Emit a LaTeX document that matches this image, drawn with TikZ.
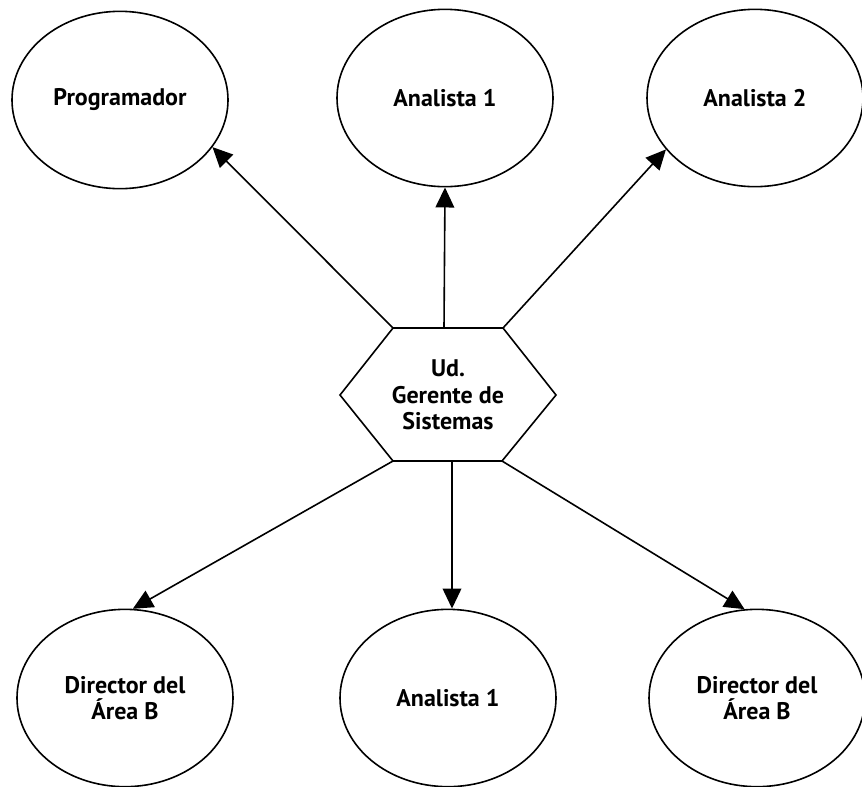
\documentclass[tikz,border=0pt]{standalone}
\usepackage{fontspec}
\setmainfont{PT Sans}
\usetikzlibrary{shapes.geometric,arrows.meta}

\begin{document}
\begin{tikzpicture}[x=0.75pt,y=-0.75pt,
  puesto/.style={draw,ellipse,line width=1.2pt,minimum width=162pt,minimum height=133pt,
    inner sep=0pt,align=center,font=\bfseries\fontsize{18}{19.5}\selectfont},
  flecha/.style={line width=1.2pt,-{Triangle[length=15pt,width=14pt]}}]
  \useasboundingbox (0,0) rectangle (862,786);
  % puestos de arriba
  \node[puesto] (prog)  at (120,100) {Programador};
  \node[puesto] (anaA)  at (445,98)  {Analista 1};
  \node[puesto] (anaB)  at (755,98)  {Analista 2};
  % puestos de abajo
  \node[puesto] (dirA)  at (125,698) {Director del\\Área B};
  \node[puesto] (anaC)  at (448,698) {Analista 1};
  \node[puesto] (dirB)  at (757,698) {Director del\\Área B};
  % unidad central
  \node[align=center,font=\bfseries\fontsize{18}{20}\selectfont] (hub) at (448,395)
        {Ud.\\Gerente de\\Sistemas};
  \coordinate (hw)  at (340,395);
  \coordinate (hnw) at (393,328);
  \coordinate (hn)  at (444,328);
  \coordinate (hne) at (503,328);
  \coordinate (he)  at (556,395);
  \coordinate (hse) at (502,461);
  \coordinate (hs)  at (452,461);
  \coordinate (hsw) at (393,461);
  \draw[line width=1.2pt] (hw) -- (hnw) -- (hne) -- (he) -- (hse) -- (hsw) -- cycle;
  \draw[flecha] (hnw) -- (prog.-27);
  \draw[flecha] (hn)  -- (anaA.south);
  \draw[flecha] (hne) -- (anaB.-150);
  \draw[flecha] (hsw) -- (dirA.85);
  \draw[flecha] (hs)  -- (hs |- anaC.north);
  \draw[flecha] (hse) -- (dirB.98);
\end{tikzpicture}
\end{document}
